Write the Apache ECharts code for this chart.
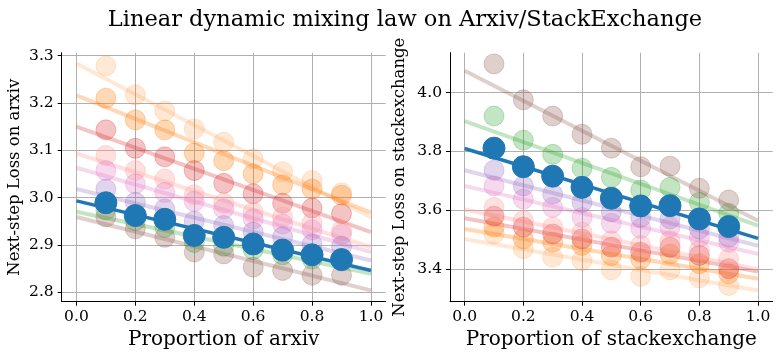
<!DOCTYPE html>
<html>
<head>
<meta charset="utf-8">
<script src="https://cdn.jsdelivr.net/npm/echarts@6/dist/echarts.min.js"></script>
<style>
    html, body { margin: 0; padding: 0; background: #fff; }
    #chart { width: 781px; height: 359px; }
</style>
</head>
<body>
<div id="chart"></div>
<script>
// proportions on the x axis (both panels)
var proportions = [0.1, 0.2, 0.3, 0.4, 0.5, 0.6, 0.7, 0.8, 0.9];
var xTicks = [0, 0.2, 0.4, 0.6, 0.8, 1.0];
var arxivTicks = [2.8, 2.9, 3.0, 3.1, 3.2, 3.3];
var stackTicks = [3.4, 3.6, 3.8, 4.0];

// runs, drawn in this order (blue last, on top)
var runColors = ['#ff7f0e', '#ff7f0e', '#d62728', '#ff9896', '#e377c2', '#9467bd', '#2ca02c', '#8c564b', '#1f77b4'];
var runOpacity = [0.17, 0.3, 0.28, 0.3, 0.28, 0.28, 0.28, 0.28, 1];

// loss on arxiv
var arxivLightOrange = [3.278, 3.217, 3.183, 3.145, 3.117, 3.082, 3.055, 3.036, 3.010];
var arxivOrange = [3.210, 3.164, 3.143, 3.094, 3.078, 3.050, 3.027, 3.018, 3.005];
var arxivRed = [3.143, 3.104, 3.086, 3.057, 3.030, 3.008, 2.988, 2.978, 2.966];
var arxivLightRed = [3.089, 3.057, 3.039, 3.006, 2.988, 2.969, 2.959, 2.946, 2.930];
var arxivPink = [3.057, 3.029, 3.011, 2.992, 2.976, 2.955, 2.944, 2.932, 2.922];
var arxivPurple = [3.018, 2.990, 2.976, 2.950, 2.941, 2.927, 2.917, 2.902, 2.897];
var arxivGreen = [2.974, 2.951, 2.937, 2.905, 2.897, 2.890, 2.879, 2.870, 2.866];
var arxivBrown = [2.959, 2.934, 2.916, 2.885, 2.881, 2.853, 2.846, 2.836, 2.836];
var arxivBlue = [2.989, 2.962, 2.954, 2.920, 2.916, 2.902, 2.889, 2.879, 2.869];
// fitted lines, value at x=0 and x=1
var arxivFitAt0 = [3.283, 3.216, 3.150, 3.093, 3.063, 3.018, 2.970, 2.959, 2.993];
var arxivFitAt1 = [2.958, 2.968, 2.927, 2.895, 2.885, 2.867, 2.839, 2.804, 2.846];

// loss on stackexchange
var stackLightOrange = [3.520, 3.470, 3.441, 3.430, 3.398, 3.376, 3.398, 3.371, 3.345];
var stackOrange = [3.543, 3.503, 3.492, 3.481, 3.447, 3.435, 3.452, 3.419, 3.385];
var stackRed = [3.580, 3.543, 3.520, 3.503, 3.475, 3.458, 3.475, 3.447, 3.402];
var stackLightRed = [3.610, 3.565, 3.543, 3.526, 3.497, 3.481, 3.497, 3.464, 3.435];
var stackPink = [3.683, 3.638, 3.610, 3.576, 3.556, 3.539, 3.543, 3.509, 3.492];
var stackPurple = [3.736, 3.683, 3.655, 3.627, 3.595, 3.576, 3.571, 3.537, 3.509];
var stackGreen = [3.920, 3.838, 3.790, 3.743, 3.712, 3.669, 3.678, 3.627, 3.590];
var stackBrown = [4.097, 3.975, 3.920, 3.858, 3.811, 3.748, 3.750, 3.675, 3.635];
var stackBlue = [3.811, 3.748, 3.716, 3.678, 3.641, 3.615, 3.616, 3.571, 3.545];
var stackFitAt0 = [3.503, 3.537, 3.573, 3.603, 3.683, 3.736, 3.903, 4.074, 3.810];
var stackFitAt1 = [3.328, 3.368, 3.392, 3.400, 3.452, 3.480, 3.548, 3.565, 3.505];

var arxivRuns = [arxivLightOrange, arxivOrange, arxivRed, arxivLightRed, arxivPink, arxivPurple, arxivGreen, arxivBrown, arxivBlue];
var stackRuns = [stackLightOrange, stackOrange, stackRed, stackLightRed, stackPink, stackPurple, stackGreen, stackBrown, stackBlue];

var chart = echarts.init(document.getElementById('chart'));
var font = 'DejaVu Serif';

function xAxis(gridIndex, name) {
    return {
        type: 'value', gridIndex: gridIndex, min: -0.05, max: 1.05,
        name: name, nameLocation: 'middle', nameGap: 28,
        nameTextStyle: { fontFamily: font, fontSize: 20, color: '#000' },
        axisLine: { onZero: false, lineStyle: { color: '#000', width: 1 } },
        axisTick: { customValues: xTicks, length: 4, lineStyle: { color: '#000' } },
        axisLabel: {
            customValues: xTicks, margin: 7, fontFamily: font, fontSize: 15.5, color: '#000',
            formatter: function (v) { return v.toFixed(1); }
        },
        splitLine: { show: true, customValues: xTicks, lineStyle: { color: '#b0b0b0', width: 1 } }
    };
}

function yAxis(gridIndex, min, max, ticks, name, gap) {
    return {
        type: 'value', gridIndex: gridIndex, min: min, max: max,
        name: name, nameLocation: 'middle', nameGap: gap, nameRotate: 90,
        nameTextStyle: { fontFamily: font, fontSize: 16.5, color: '#000' },
        axisLine: { show: true, onZero: false, lineStyle: { color: '#000', width: 1 } },
        axisTick: { show: true, customValues: ticks, length: 4, lineStyle: { color: '#000' } },
        axisLabel: {
            customValues: ticks, margin: 8, fontFamily: font, fontSize: 15.5, color: '#000',
            formatter: function (v) { return v.toFixed(1); }
        },
        splitLine: { show: true, customValues: ticks, lineStyle: { color: '#b0b0b0', width: 1 } }
    };
}

var series = [];
function addPanel(idx, runs, fit0, fit1) {
    for (var i = 0; i < runs.length; i++) {
        var isMain = i === runs.length - 1;
        series.push({
            type: 'line', xAxisIndex: idx, yAxisIndex: idx, silent: true,
            data: [[0, fit0[i]], [1, fit1[i]]],
            showSymbol: false, symbol: 'none',
            lineStyle: { color: runColors[i], width: isMain ? 3.5 : 4, opacity: runOpacity[i] },
            z: isMain ? 4 : 2
        });
        series.push({
            type: 'scatter', xAxisIndex: idx, yAxisIndex: idx, silent: true,
            data: proportions.map(function (p, j) { return [p, runs[i][j]]; }),
            symbolSize: isMain ? 22 : 20,
            itemStyle: { color: runColors[i], opacity: runOpacity[i], borderColor: runColors[i], borderWidth: 1 },
            z: isMain ? 5 : 3
        });
    }
}
addPanel(0, arxivRuns, arxivFitAt0, arxivFitAt1);
addPanel(1, stackRuns, stackFitAt0, stackFitAt1);

chart.setOption({
    animation: false,
    title: {
        text: 'Linear dynamic mixing law on Arxiv/StackExchange',
        left: 400, top: 4, textAlign: 'center',
        textStyle: { fontFamily: font, fontSize: 22.5, fontWeight: 'normal', color: '#000' }
    },
    grid: [
        { left: 61.7, top: 52.7, width: 324, height: 249 },
        { left: 450, top: 52.7, width: 322.7, height: 249 }
    ],
    xAxis: [xAxis(0, 'Proportion of arxiv'), xAxis(1, 'Proportion of stackexchange')],
    yAxis: [
        yAxis(0, 2.78, 3.306, arxivTicks, 'Next-step Loss on arxiv', 38),
        yAxis(1, 3.29, 4.135, stackTicks, 'Next-step Loss on stackexchange', 42)
    ],
    series: series
});
</script>
</body>
</html>
